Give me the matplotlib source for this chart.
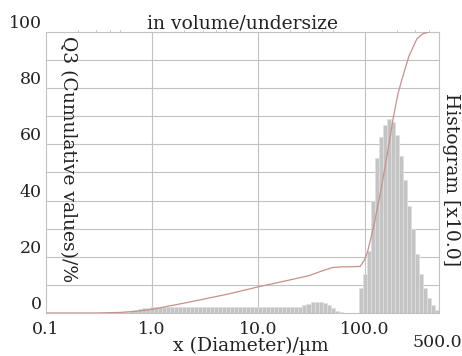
import numpy as np
import matplotlib
matplotlib.use("Agg")
import matplotlib.pyplot as plt
from matplotlib.ticker import FixedLocator, NullLocator

plt.rcParams["font.family"] = ["DejaVu Serif"]

# histogram (x10.0), one value per log-spaced channel from 0.1 to 500 um
hist_vals = [
    0, 0, 0, 0, 0, 0, 0, 0, 0, 0,
    0, 0, 0, 0, 0, 0.1, 0.1, 0.1, 0.15, 0.2,
    0.3, 0.6, 1.0, 1.3, 1.6, 1.9, 2.1, 2.2, 2.2, 2.2,
    2.2, 2.2, 2.2, 2.2, 2.2, 2.2, 2.2, 2.2, 2.2, 2.2,
    2.2, 2.2, 2.2, 2.2, 2.2, 2.2, 2.2, 2.2, 2.2, 2.2,
    2.2, 2.2, 2.2, 2.2, 2.2, 2.1, 2.1, 2.0, 2.0, 2.0,
    2.0, 2.0, 2.1, 2.3, 2.7, 3.3, 3.8, 4.0, 4.0, 3.6,
    2.8, 1.8, 0.8, 0.2, 0, 0, 0, 0, 9, 14,
    22, 40, 55, 62.5, 67, 69, 68, 63.5, 56, 47.5,
    38, 30, 21, 14, 9, 5.5, 3, 1,
]

# cumulative Q3 curve
cum_x = [0.1, 0.3, 0.5, 0.7, 1.0, 2.0, 5.0, 10, 20, 30, 40, 50, 60, 80, 91,
         100, 107, 122, 143, 166, 185, 206, 224, 261, 310, 350, 400]
cum_y = [0, 0, 0.2, 0.6, 1.3, 3.5, 6.6, 9.3, 11.8, 13.3, 15, 16.2, 16.4, 16.5, 16.6,
         19, 22, 31, 44, 58, 69, 78, 83, 91.4, 97.5, 99.3, 100]

xticks = [0.1, 1.0, 10.0, 100.0]
xtick_labels = ["0.1", "1.0", "10.0", "100.0"]
yticks = [0, 20, 40, 60, 80, 100]

grid_c = "#c2c2c2"
text_c = "#222222"

fig = plt.figure(figsize=(4.62, 3.56), dpi=100)
ax = fig.add_axes([0.0989, 0.1208, 0.8511, 0.7893])

edges = np.logspace(np.log10(0.1), np.log10(500), len(hist_vals) + 1)
ax.bar(edges[:-1], hist_vals, width=np.diff(edges), align="edge",
       color="#c4c4c4", edgecolor="#e0e0e0", linewidth=0.5, zorder=2)
ax.plot(cum_x, cum_y, color="#c9908a", linewidth=0.9, zorder=3)

ax.set_xscale("log")
ax.set_xlim(0.1, 500)
ax.set_ylim(0, 100)

ax.xaxis.set_major_locator(FixedLocator(xticks))
ax.set_xticklabels(xtick_labels)
ax.xaxis.set_minor_locator(NullLocator())
ax.set_yticks(yticks)

for y in range(10, 100, 10):
    ax.axhline(y, color=grid_c, linewidth=0.8, zorder=1)
for x in [1.0, 10.0, 100.0]:
    ax.axvline(x, color=grid_c, linewidth=0.8, zorder=1)

for s in ax.spines.values():
    s.set_color(grid_c)
    s.set_linewidth(0.8)

ax.tick_params(axis="both", which="both", length=0, labelsize=12.5, colors=text_c)
ax.tick_params(axis="x", pad=6)
ax.tick_params(axis="y", pad=3)
for lab in ax.get_yticklabels():
    lab.set_verticalalignment("bottom")

# little minor ticks along the top edge
for x in [0.2, 0.3, 0.4, 0.5, 2, 3, 4, 5, 20, 30, 40, 50, 200, 300, 400]:
    ax.plot([x, x], [100, 100.7], color=grid_c, linewidth=0.6, clip_on=False)

ax.set_title("in volume/undersize", fontsize=13.5, color=text_c, pad=2)
fig.text(0.543, 0.028, "x (Diameter)/\u00b5m", fontsize=13.5, color=text_c,
         ha="center", va="center")
fig.text(0.946, 0.038, "500.0", fontsize=12.5, color=text_c,
         ha="center", va="center")
fig.text(0.147, 0.553, "Q3 (Cumulative values)/%", fontsize=13.5, color=text_c,
         rotation=270, ha="center", va="center")
fig.text(0.976, 0.497, "Histogram [x10.0]", fontsize=13.5, color=text_c,
         rotation=270, ha="center", va="center")

fig.savefig("out.png", dpi=100)
